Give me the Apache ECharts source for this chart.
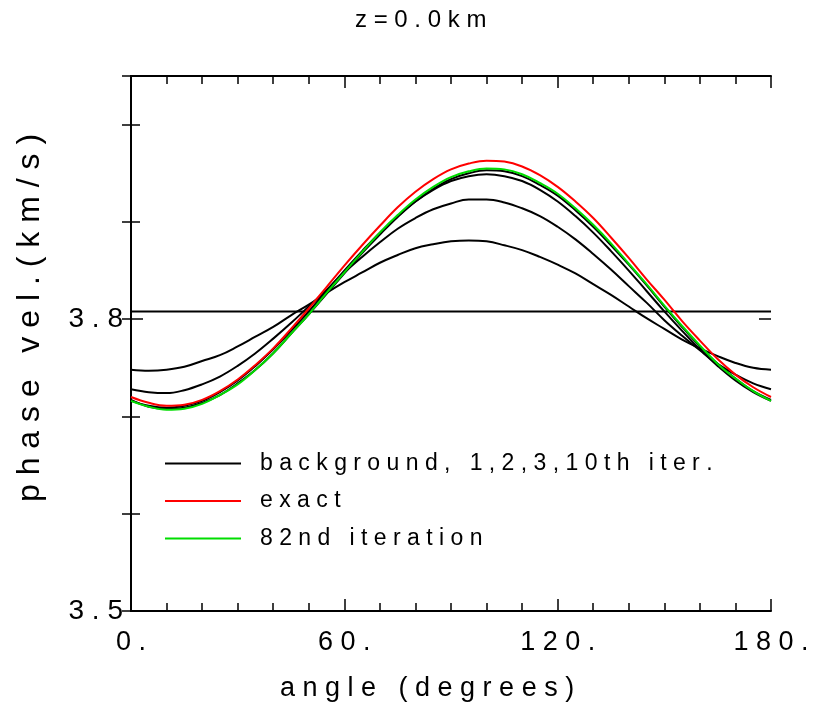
<!DOCTYPE html>
<html>
<head>
<meta charset="utf-8">
<script src="https://cdn.jsdelivr.net/npm/echarts@6/dist/echarts.min.js"></script>
<style>
  html, body { margin: 0; padding: 0; background: #fff; }
  #chart { width: 815px; height: 709px; }
</style>
</head>
<body>
<div id="chart"></div>
<script>
// Azimuthal phase velocity at z = 0 km, sampled every 5 degrees
const angles = [0, 5, 10, 15, 20, 25, 30, 35, 40, 45, 50, 55, 60, 65, 70, 75, 80, 85, 90,
                95, 100, 105, 110, 115, 120, 125, 130, 135, 140, 145, 150, 155, 160, 165, 170, 175, 180];

const background = [3.808, 3.808, 3.808, 3.808, 3.808, 3.808, 3.808, 3.808, 3.808, 3.808,
                    3.808, 3.808, 3.808, 3.808, 3.808, 3.808, 3.808, 3.808, 3.808, 3.808,
                    3.808, 3.808, 3.808, 3.808, 3.808, 3.808, 3.808, 3.808, 3.808, 3.808,
                    3.808, 3.808, 3.808, 3.808, 3.808, 3.808, 3.808];
const iter1  = [3.748, 3.747, 3.748, 3.751, 3.757, 3.763, 3.772, 3.782, 3.792, 3.804,
                3.815, 3.827, 3.838, 3.848, 3.858, 3.866, 3.873, 3.877, 3.880, 3.881,
                3.880, 3.876, 3.871, 3.864, 3.856, 3.847, 3.836, 3.825, 3.813, 3.801,
                3.790, 3.779, 3.770, 3.762, 3.755, 3.750, 3.748];
const iter2  = [3.728, 3.725, 3.724, 3.727, 3.733, 3.741, 3.752, 3.765, 3.780, 3.796,
                3.813, 3.830, 3.848, 3.864, 3.879, 3.893, 3.904, 3.913, 3.919, 3.923,
                3.923, 3.920, 3.914, 3.906, 3.895, 3.882, 3.867, 3.851, 3.834, 3.817,
                3.799, 3.783, 3.768, 3.754, 3.743, 3.734, 3.728];
const iter3  = [3.716, 3.711, 3.709, 3.711, 3.716, 3.725, 3.737, 3.752, 3.769, 3.788,
                3.808, 3.829, 3.850, 3.870, 3.889, 3.906, 3.921, 3.933, 3.942, 3.947,
                3.949, 3.947, 3.942, 3.933, 3.921, 3.906, 3.889, 3.870, 3.850, 3.829,
                3.808, 3.788, 3.769, 3.752, 3.737, 3.725, 3.716];
const iter10 = [3.717, 3.710, 3.708, 3.709, 3.714, 3.722, 3.734, 3.748, 3.765, 3.785,
                3.805, 3.826, 3.847, 3.868, 3.887, 3.905, 3.921, 3.934, 3.944, 3.950,
                3.953, 3.952, 3.947, 3.938, 3.927, 3.912, 3.895, 3.876, 3.856, 3.835,
                3.813, 3.792, 3.772, 3.754, 3.739, 3.726, 3.717];
const exact  = [3.720, 3.714, 3.711, 3.712, 3.717, 3.726, 3.738, 3.753, 3.770, 3.790,
                3.811, 3.833, 3.855, 3.876, 3.896, 3.915, 3.931, 3.944, 3.954, 3.960,
                3.963, 3.962, 3.957, 3.948, 3.936, 3.921, 3.904, 3.884, 3.863, 3.841,
                3.820, 3.798, 3.778, 3.759, 3.743, 3.730, 3.720];
const iter82 = [3.716, 3.710, 3.707, 3.708, 3.713, 3.722, 3.733, 3.748, 3.765, 3.785,
                3.805, 3.827, 3.848, 3.869, 3.889, 3.907, 3.923, 3.936, 3.946, 3.952,
                3.955, 3.954, 3.949, 3.940, 3.929, 3.914, 3.897, 3.878, 3.857, 3.836,
                3.814, 3.793, 3.773, 3.754, 3.739, 3.726, 3.716];

const xTickLabels = ['0.', '60.', '120.', '180.'];
const yTickLabels = ['3.5', '3.8'];

const legendNames = ['background, 1,2,3,10th iter.', 'exact', '82nd iteration'];
const titleText = 'z=0.0km';
const xTitle = 'angle (degrees)';
const yTitle = 'phase vel.(km/s)';

const FONT = '"Liberation Sans", Arial, Helvetica, sans-serif';
const spaced = s => s.split('').join(' ');
const pairs = ys => angles.map((a, i) => [a, ys[i]]);

const lineSeries = (name, ys, color) => ({
  name: name,
  type: 'line',
  data: pairs(ys),
  smooth: 0.4,
  symbol: 'none',
  color: color,
  lineStyle: { color: color, width: 2 },
  emphasis: { disabled: true },
  animation: false,
  z: 3
});

const xLabel = v => {
  const idx = [0, 60, 120, 180].indexOf(Math.round(v));
  return idx >= 0 ? spaced(xTickLabels[idx]) : '';
};
const yLabel = v => {
  for (const t of yTickLabels) {
    if (Math.abs(v - parseFloat(t)) < 1e-6) return spaced(t);
  }
  return '';
};

const frameLine = { show: true, lineStyle: { color: '#000', width: 2 } };

const xAxisBase = {
  type: 'value', min: 0, max: 180, interval: 60,
  axisLine: frameLine,
  axisTick: { show: true, inside: true, length: 12, lineStyle: { color: '#000', width: 1.5 } },
  minorTick: { show: true, splitNumber: 6, length: 8, lineStyle: { color: '#000', width: 1.5 } },
  splitLine: { show: false }
};

const yMinorBase = {
  type: 'value', min: 3.5, max: 4.05, interval: 0.1,
  axisLine: frameLine,
  axisTick: { show: true, inside: true, length: 9, lineStyle: { color: '#000', width: 1.5 } },
  splitLine: { show: false }
};
const yMajorBase = {
  type: 'value', min: 3.5, max: 4.05, interval: 0.3,
  axisLine: { show: false },
  axisTick: { show: true, inside: true, length: 12, lineStyle: { color: '#000', width: 1.5 } },
  axisLabel: { show: false },
  splitLine: { show: false }
};

const chart = echarts.init(document.getElementById('chart'), null, { renderer: 'canvas' });

chart.setOption({
  backgroundColor: '#fff',
  animation: false,
  title: {
    text: spaced(titleText),
    left: 355, top: 8, padding: 0,
    textStyle: { fontFamily: FONT, fontSize: 24, fontWeight: 'normal', color: '#000' }
  },
  grid: { left: 131, right: 44, top: 76, bottom: 98, containLabel: false },
  xAxis: [
    Object.assign({}, xAxisBase, {
      position: 'bottom',
      axisLabel: {
        show: true, margin: 18, formatter: xLabel,
        fontFamily: FONT, fontSize: 27, color: '#000'
      }
    }),
    Object.assign({}, xAxisBase, { position: 'top', axisLabel: { show: false } })
  ],
  yAxis: [
    Object.assign({}, yMinorBase, {
      position: 'left',
      axisLabel: {
        show: true, margin: 8, formatter: yLabel, showMaxLabel: false,
        fontFamily: FONT, fontSize: 28, color: '#000'
      }
    }),
    Object.assign({}, yMinorBase, { position: 'right', axisLabel: { show: false } }),
    Object.assign({}, yMajorBase, { position: 'left' }),
    Object.assign({}, yMajorBase, { position: 'right' })
  ],
  legend: {
    data: legendNames,
    orient: 'vertical',
    left: 165, top: 452,
    padding: 0,
    icon: 'rect',
    itemWidth: 76, itemHeight: 2, itemGap: 14.5,
    selectedMode: false,
    formatter: name => spaced(name),
    textStyle: { fontFamily: FONT, fontSize: 23, lineHeight: 23, color: '#000', padding: [0, 0, 0, 14] }
  },
  graphic: [
    {
      type: 'text', left: 280, top: 675,
      style: { text: spaced(xTitle), font: '27px ' + FONT, fill: '#000' }
    },
    {
      type: 'text', x: 30, y: 318, rotation: Math.PI / 2,
      style: { text: spaced(yTitle), font: '32px ' + FONT, fill: '#000', align: 'center', verticalAlign: 'middle' }
    }
  ],
  series: [
    lineSeries(legendNames[0], background, '#000'),
    lineSeries(legendNames[0], iter1, '#000'),
    lineSeries(legendNames[0], iter2, '#000'),
    lineSeries(legendNames[0], iter3, '#000'),
    lineSeries(legendNames[0], iter10, '#000'),
    lineSeries(legendNames[1], exact, '#ff0000'),
    lineSeries(legendNames[2], iter82, '#00dd00')
  ]
});
</script>
</body>
</html>
